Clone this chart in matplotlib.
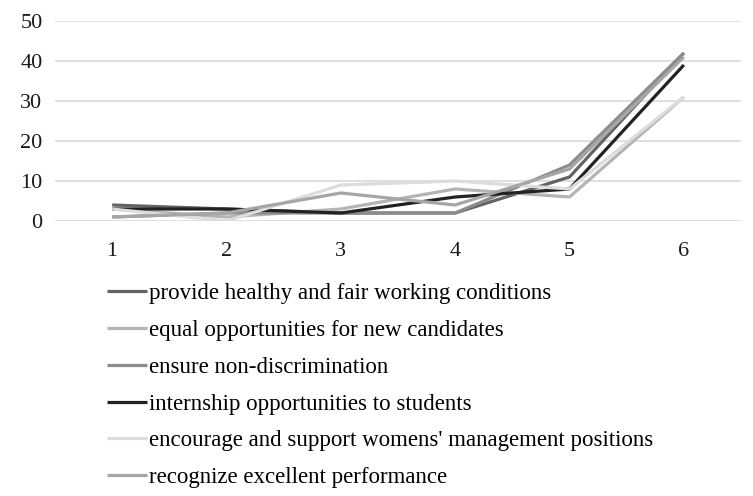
import matplotlib.pyplot as plt

# значения по шкале 1..6 для каждой группы
scale = [1, 2, 3, 4, 5, 6]
provide = [4, 3, 2, 2, 11, 42]
equal = [3, 1, 3, 8, 6, 31]
ensure = [1, 2, 2, 2, 14, 42]
internship = [3, 3, 2, 6, 8, 39]
encourage = [3, 0, 9, 10, 8, 31]
recognize = [1, 2, 7, 4, 13, 41]

labels = [
    'provide healthy and fair working conditions',
    'equal opportunities for new candidates',
    'ensure non-discrimination',
    'internship opportunities to students',
    "encourage and support womens' management positions",
    'recognize excellent performance',
]
series = [provide, equal, ensure, internship, encourage, recognize]
colors = ['#636363', '#b4b4b4', '#8c8c8c', '#222222', '#dcdcdc', '#a6a6a6']

plt.rcParams['font.family'] = ['Liberation Serif', 'DejaVu Serif']

fig = plt.figure(figsize=(7.53, 4.96), dpi=100)
ax = fig.add_axes([55 / 753, 1 - 221 / 496, 686 / 753, 200 / 496])

for vals, lab, col in zip(series, labels, colors):
    ax.plot(scale, vals, color=col, linewidth=2.3, label=lab, solid_capstyle='butt')

ax.set_xlim(0.5, 6.5)
ax.set_ylim(0, 50)
ax.set_yticks([0, 10, 20, 30, 40, 50])
ax.set_xticks(scale)
ax.grid(axis='y', color='#d9d9d9', linewidth=1.2)
ax.set_axisbelow(True)
for s in ax.spines.values():
    s.set_visible(False)
ax.tick_params(axis='both', length=0, labelsize=16, colors='#1a1a1a')
ax.tick_params(axis='x', pad=15)
ax.tick_params(axis='y', pad=9)

fig.legend(loc='upper left', bbox_to_anchor=(107 / 753, 1 - 283 / 496),
           frameon=False, fontsize=16.5, handlelength=1.75, handletextpad=0.08,
           labelspacing=0.69, borderpad=0, borderaxespad=0)

fig.savefig('out.png', dpi=100)
